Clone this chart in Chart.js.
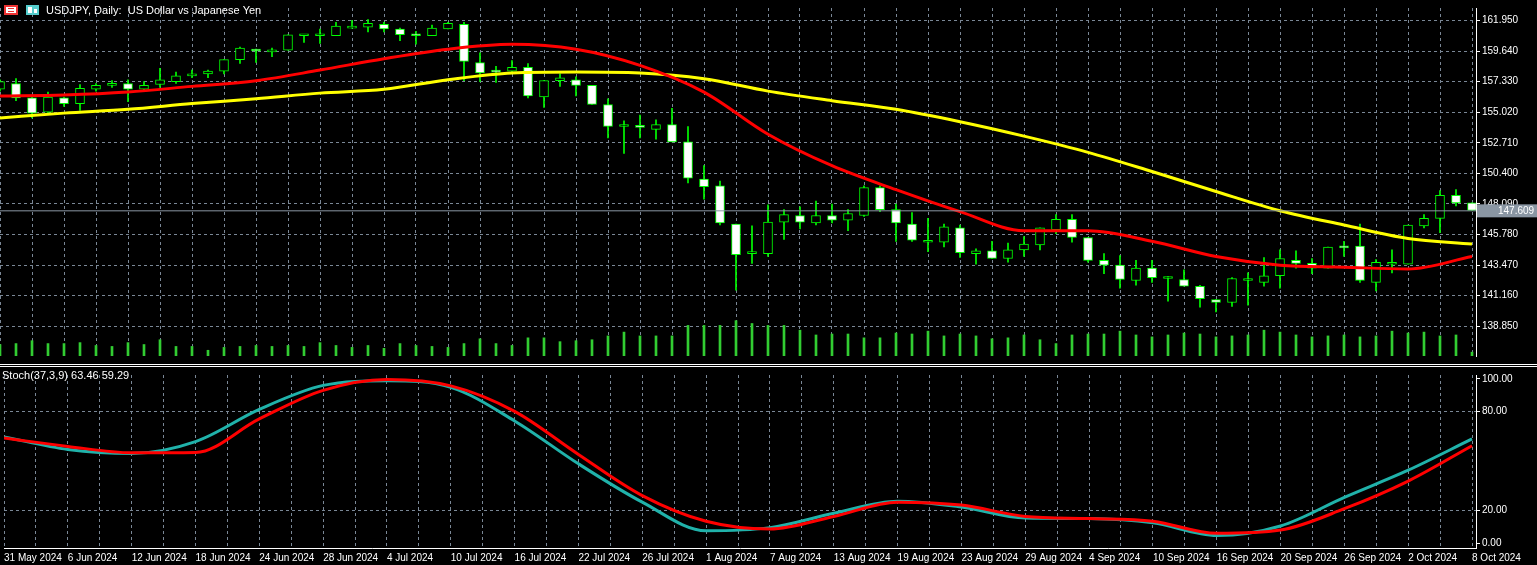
<!DOCTYPE html>
<html>
<head>
<meta charset="utf-8">
<script src="https://cdn.jsdelivr.net/npm/chart.js@4.4.1/dist/chart.umd.min.js"></script>
<style>
  html, body { margin: 0; padding: 0; background: #000; width: 1537px; height: 565px; overflow: hidden; }
  #main { position: absolute; left: 0; top: 0; width: 1537px; height: 364px; }
  #sep { position: absolute; left: 0; top: 364px; width: 1537px; height: 3px; border-top: 1px solid #fff; border-bottom: 1px solid #fff; box-sizing: border-box; }
  #stoch { position: absolute; left: 0; top: 367px; width: 1537px; height: 198px; }
</style>
</head>
<body>
<div id="main"><canvas id="mainChart"></canvas></div>
<div id="sep"></div>
<div id="stoch"><canvas id="stochChart"></canvas></div>
<script>
// daily bars, 31 May 2024 .. 8 Oct 2024 : [open, high, low, close]
const ohlc = [
  [156.75,157.47,156.61,157.33],[157.19,157.55,155.89,156.10],[156.10,156.17,154.59,154.95],[155.02,156.54,154.95,156.17],
  [156.10,156.17,155.45,155.67],[155.67,157.11,155.16,156.82],[156.75,157.19,156.61,157.04],[157.04,157.40,156.90,157.19],
  [157.19,157.47,155.81,156.75],[156.75,157.33,156.61,157.04],[157.11,158.34,156.90,157.47],[157.33,158.05,157.19,157.76],
  [157.76,158.20,157.62,157.91],[157.91,158.20,157.62,158.12],[158.12,158.99,157.91,158.99],[158.99,159.93,158.70,159.86],
  [159.78,159.78,158.77,159.64],[159.57,159.86,159.21,159.71],[159.71,160.87,159.71,160.87],[160.79,160.79,160.29,160.80],
  [160.79,161.30,160.22,160.94],[160.79,161.80,160.79,161.52],[161.37,161.95,161.37,161.52],[161.44,162.02,161.08,161.73],
  [161.66,161.80,161.08,161.30],[161.30,161.37,160.43,160.87],[160.80,161.12,160.15,160.79],[160.79,161.59,160.79,161.37],
  [161.30,161.80,161.30,161.73],[161.66,161.80,157.40,158.85],[158.77,159.50,157.33,157.98],[158.05,158.48,157.26,158.04],
  [158.12,158.92,158.05,158.41],[158.41,158.70,156.10,156.25],[156.17,157.40,155.38,157.40],[157.40,157.91,156.97,157.62],
  [157.47,157.69,156.25,157.04],[157.04,157.04,155.60,155.60],[155.60,156.03,153.07,153.94],[153.94,154.37,151.91,153.95],
  [154.01,154.80,153.07,153.87],[153.72,154.44,152.99,154.08],[154.08,155.31,152.78,152.78],[152.78,153.94,149.68,150.04],
  [149.97,150.98,148.45,149.39],[149.46,149.82,146.50,146.65],[146.57,146.57,141.59,144.26],[144.34,146.43,143.61,144.35],
  [144.34,148.02,144.12,146.72],[146.72,147.66,145.42,147.29],[147.22,147.87,146.21,146.72],[146.65,148.30,146.50,147.22],
  [147.22,148.09,146.65,146.86],[146.86,147.66,146.07,147.37],[147.22,149.46,147.15,149.32],[149.32,149.46,147.51,147.66],
  [147.66,148.09,145.27,146.65],[146.57,147.44,145.27,145.35],[145.20,147.00,144.48,145.21],[145.20,146.57,144.84,146.36],
  [146.28,146.50,144.05,144.41],[144.34,144.70,143.54,144.55],[144.55,145.27,143.97,143.97],[143.97,145.13,143.69,144.62],
  [144.62,145.63,144.12,145.06],[144.99,146.28,144.62,146.28],[146.14,147.29,145.85,146.93],[146.93,147.29,145.20,145.56],
  [145.56,145.56,143.69,143.83],[143.83,144.34,142.82,143.47],[143.47,144.19,141.74,142.39],[142.31,143.83,141.95,143.25],
  [143.25,143.83,142.17,142.53],[142.46,142.60,140.75,142.47],[142.39,143.11,141.88,141.88],[141.88,141.95,140.29,140.94],
  [140.87,140.87,139.93,140.65],[140.65,142.53,140.36,142.46],[142.31,142.89,140.44,142.32],[142.17,144.05,141.88,142.67],
  [142.67,144.62,141.74,143.97],[143.83,144.55,143.25,143.61],[143.61,143.97,142.82,143.25],[143.25,144.84,143.25,144.84],
  [144.91,145.27,144.12,144.77],[144.91,146.57,142.17,142.31],[142.17,143.90,141.52,143.69],[143.54,144.62,142.89,143.69],
  [143.54,146.50,143.54,146.50],[146.43,147.29,146.28,147.00],[147.00,149.10,145.92,148.74],[148.74,149.17,147.95,148.17],
  [148.17,148.17,147.58,147.61]
];

// tick volume (relative)
const volume = [
  12,13,16,13,13,14,11,10,14,12,17,10,10,6,9,10,11,10,11,10,14,11,9,11,8,13,11,10,9,13,18,13,11,
  19,19,15,16,17,21,25,21,21,21,32,32,32,37,34,32,32,27,22,23,23,19,19,24,23,26,21,23,21,18,19,
  22,17,13,22,23,23,26,22,20,22,24,23,20,21,22,27,25,22,20,21,22,20,21,26,24,25,21,22,4
];

// moving averages and stochastic, read every 4th bar
const sampleIdx = [0,4,8,12,16,20,24,28,32,36,40,44,48,52,56,60,64,68,72,76,80,84,88,92];
const maRed = [156.25,156.32,156.54,156.97,157.40,158.20,159.06,159.78,160.15,159.78,158.56,156.54,
               153.36,150.98,149.17,147.51,146.07,146.07,145.27,144.12,143.47,143.32,143.18,144.12];
const maYellow = [154.59,154.95,155.24,155.67,156.03,156.46,156.75,157.47,157.98,158.05,157.98,157.55,
                  156.61,155.89,155.24,154.30,153.21,151.99,150.54,149.03,147.58,146.50,145.49,145.06];
const stochMain = [64.7,57.0,54.6,61.8,81.4,96.0,98.8,94.8,74.4,48.3,25.0,7.6,
                   9.5,18.2,25.6,22.0,15.3,15.0,12.4,4.7,10.5,27.9,44.4,63.46];
const stochSignal = [64.0,58.9,55.0,55.2,75.6,93.0,99.6,95.7,80.2,54.0,29.0,13.4,
                     8.7,16.3,25.0,23.2,16.3,15.0,13.4,6.0,8.0,21.0,37.8,59.29];

const priceTicks = [138.850,141.160,143.470,145.780,148.090,150.400,152.710,155.020,157.330,159.640,161.950];
const lastPrice = 147.609;

// trading days (weekdays) from 31 May 2024
const dates = [];
(function() {
  const mon = ['Jan','Feb','Mar','Apr','May','Jun','Jul','Aug','Sep','Oct','Nov','Dec'];
  const d = new Date(2024, 4, 31);
  while (dates.length < ohlc.length) {
    const wd = d.getDay();
    if (wd !== 0 && wd !== 6) dates.push(d.getDate() + ' ' + mon[d.getMonth()] + ' 2024');
    d.setDate(d.getDate() + 1);
  }
})();

const gridColor = '#7a8796';
const green = '#00ff00';
const font = { family: 'Liberation Sans', size: 10 };
const axisWidth = 61;

function xScale(showLabels) {
  return {
    type: 'linear', min: 0, max: 92.25, offset: false,
    afterBuildTicks: function(s) {
      s.ticks = [];
      for (let i = 0; i <= 92; i += 2) s.ticks.push({ value: i });
    },
    grid: { color: gridColor, drawTicks: false, offset: false },
    border: { display: showLabels, color: '#fff', dash: [3, 3] },
    ticks: {
      display: showLabels, color: '#fff', font: font, maxRotation: 0, autoSkip: false, align: 'start', padding: 4,
      callback: function(v) { return v % 4 === 0 ? dates[v] : ''; }
    },
    afterFit: function(s) { s.height = showLabels ? 17 : 0; }
  };
}

// header text, current price line + label
const decorPlugin = {
  id: 'decor',
  afterDatasetsDraw: function(chart) {
    const ctx = chart.ctx, a = chart.chartArea;
    ctx.save();
    ctx.font = '11px "Liberation Sans"';
    ctx.textBaseline = 'middle';
    if (chart.canvas.id === 'mainChart') {
      const y = chart.scales.y.getPixelForValue(lastPrice);
      ctx.strokeStyle = '#8a96a3';
      ctx.lineWidth = 1;
      ctx.beginPath(); ctx.moveTo(a.left, y + 0.5); ctx.lineTo(a.right, y + 0.5); ctx.stroke();
      ctx.fillStyle = '#8a96a3';
      ctx.fillRect(a.right + 1, y - 6, 60, 13);
      ctx.fillStyle = '#fff';
      ctx.font = '10px "Liberation Sans"';
      ctx.fillText(lastPrice.toFixed(3), a.right + 22, y + 1);
      // small window icons
      ctx.fillStyle = '#e33'; ctx.fillRect(4, 5, 14, 10);
      ctx.fillStyle = '#fff'; ctx.fillRect(6, 7, 10, 6);
      ctx.fillStyle = '#e33'; ctx.fillRect(8, 8, 6, 1); ctx.fillRect(8, 11, 6, 1);
      ctx.fillStyle = '#5cc'; ctx.fillRect(26, 5, 13, 10);
      ctx.fillStyle = '#fff'; ctx.fillRect(28, 7, 4, 6); ctx.fillRect(34, 9, 3, 4);
      ctx.fillStyle = '#fff';
      ctx.font = '11px "Liberation Sans"';
      ctx.fillText('USDJPY, Daily:  US Dollar vs Japanese Yen', 46, 11);
    } else {
      ctx.fillStyle = '#fff';
      ctx.fillText('Stoch(37,3,9) ' + stochMain[stochMain.length - 1].toFixed(2) + ' ' +
                   stochSignal[stochSignal.length - 1].toFixed(2), 2, 9);
    }
    ctx.restore();
  }
};

Chart.defaults.animation = false;
Chart.defaults.color = '#fff';

new Chart(document.getElementById('mainChart'), {
  type: 'bar',
  data: {
    datasets: [
      {
        label: 'Volume', yAxisID: 'yv',
        data: volume.map(function(v, i) { return { x: i, y: v }; }),
        backgroundColor: '#32cd32', barThickness: 2, grouped: false, order: 5
      },
      {
        label: 'MA red', type: 'line',
        data: sampleIdx.map(function(x, k) { return { x: x, y: maRed[k] }; }),
        borderColor: '#ff0000', borderWidth: 3, pointRadius: 0, cubicInterpolationMode: 'monotone', order: 1
      },
      {
        label: 'MA yellow', type: 'line',
        data: sampleIdx.map(function(x, k) { return { x: x, y: maYellow[k] }; }),
        borderColor: '#ffff00', borderWidth: 3, pointRadius: 0, cubicInterpolationMode: 'monotone', order: 1
      },
      {
        label: 'Wicks',
        data: ohlc.map(function(c, i) { return { x: i, y: [c[2], c[1]] }; }),
        backgroundColor: green, barThickness: 1, grouped: false, order: 3
      },
      {
        label: 'Bodies',
        data: ohlc.map(function(c, i) { return { x: i, y: [c[0], c[3]] }; }),
        backgroundColor: ohlc.map(function(c) { return c[3] >= c[0] ? '#000' : '#fff'; }),
        borderColor: green, borderWidth: 1, borderSkipped: false, minBarLength: 2,
        barThickness: 9, grouped: false, order: 2
      }
    ]
  },
  options: {
    responsive: true, maintainAspectRatio: false,
    layout: { padding: 0 },
    plugins: { legend: { display: false }, tooltip: { enabled: false } },
    scales: {
      x: xScale(false),
      y: {
        position: 'right', min: 136.61, max: 162.888,
        afterBuildTicks: function(s) { s.ticks = priceTicks.map(function(v) { return { value: v }; }); },
        grid: { color: gridColor, tickColor: '#fff', tickLength: 4 },
        border: { display: true, color: '#fff', dash: [3, 3] },
        ticks: { color: '#fff', font: font, padding: 2, callback: function(v) { return v.toFixed(3); } },
        afterFit: function(s) { s.width = axisWidth; }
      },
      yv: { display: false, min: 0, max: 364 }
    }
  },
  plugins: [decorPlugin]
});

new Chart(document.getElementById('stochChart'), {
  type: 'line',
  data: {
    datasets: [
      {
        label: 'Signal',
        data: sampleIdx.map(function(x, k) { return { x: x, y: stochSignal[k] }; }),
        borderColor: '#ff0000', borderWidth: 3, pointRadius: 0, cubicInterpolationMode: 'monotone'
      },
      {
        label: 'Main',
        data: sampleIdx.map(function(x, k) { return { x: x, y: stochMain[k] }; }),
        borderColor: '#20b2aa', borderWidth: 3, pointRadius: 0, cubicInterpolationMode: 'monotone'
      }
    ]
  },
  options: {
    responsive: true, maintainAspectRatio: false,
    layout: { padding: 0 },
    plugins: { legend: { display: false }, tooltip: { enabled: false } },
    scales: {
      x: xScale(true),
      y: {
        position: 'right', min: -2.9, max: 102.33,
        afterBuildTicks: function(s) { s.ticks = [0, 20, 80, 100].map(function(v) { return { value: v }; }); },
        grid: {
          color: function(c) { return (c.tick && (c.tick.value === 20 || c.tick.value === 80)) ? gridColor : 'rgba(0,0,0,0)'; },
          tickColor: '#fff', tickLength: 4
        },
        border: { display: true, color: '#fff', dash: [3, 3] },
        ticks: { color: '#fff', font: font, padding: 2, callback: function(v) { return v.toFixed(2); } },
        afterFit: function(s) { s.width = axisWidth; }
      }
    }
  },
  plugins: [decorPlugin]
});
</script>
</body>
</html>
